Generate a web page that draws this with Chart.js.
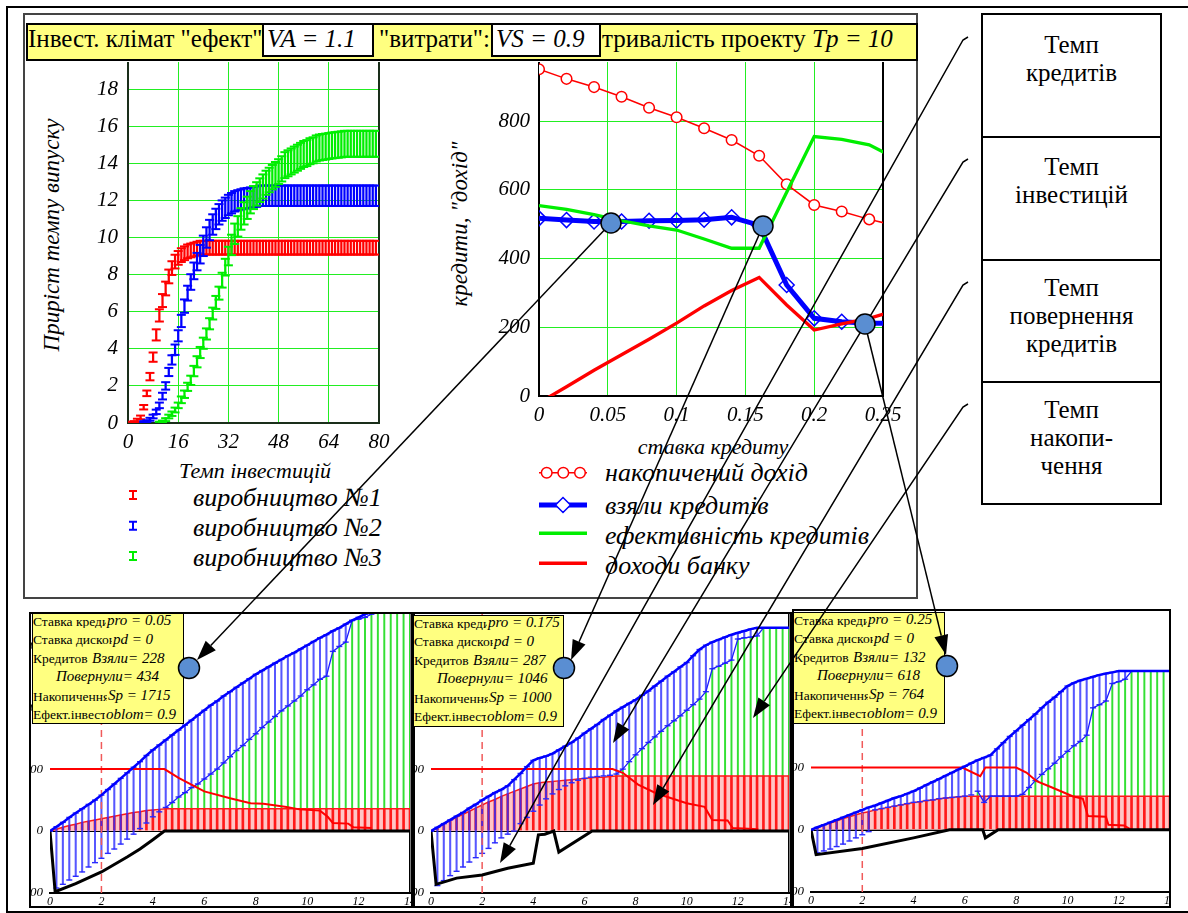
<!DOCTYPE html>
<html lang="uk">
<head>
<meta charset="utf-8">
<title>Інвест. клімат</title>
<script src="https://cdn.jsdelivr.net/npm/chart.js@4.4.1/dist/chart.umd.min.js"></script>
<style>
html,body{margin:0;padding:0;background:#fff;}
body{width:1188px;height:913px;position:relative;overflow:hidden;font-family:"Liberation Serif","Times New Roman",serif;color:#000;}
.a{position:absolute;white-space:nowrap;line-height:1;}
.i{font-style:italic;}
canvas{position:absolute;z-index:1;}
.panel{position:absolute;box-sizing:border-box;border:2px solid #000;overflow:hidden;background:#fff;}
.info{position:absolute;box-sizing:border-box;border:1.5px solid #000;background:#ffff80;z-index:3;overflow:hidden;}
.rbox{position:absolute;box-sizing:border-box;border:2px solid #000;left:981px;width:181px;text-align:center;line-height:28px;background:#fff;}
.tt{z-index:2;}
</style>
</head>
<body>
<div style="position:absolute;left:6px;top:6px;width:1200px;height:903px;border:2px solid #000;"></div>
<div style="position:absolute;left:23px;top:13px;width:891px;height:582px;border:2px solid #444;"></div>

<div class="rbox" data-fs="25" style="top:13px;height:125px;padding-top:16px;">Темп<br>кредитів</div>
<div class="rbox" data-fs="25" style="top:136px;height:125px;padding-top:14.5px;">Темп<br>інвестицій</div>
<div class="rbox" data-fs="25" style="top:259px;height:124px;padding-top:13.3px;">Темп<br>повернення<br>кредитів</div>
<div class="rbox" data-fs="25" style="top:381px;height:124px;padding-top:13px;">Темп<br>накопи-<br>чення</div>

<div class="tt" style="position:absolute;left:26px;top:23px;width:892px;height:38px;box-sizing:border-box;border:2px solid #000;background:#ffff80;"></div>
<div class="a tt" data-fs="25" style="left:28px;top:26px;">Інвест. клімат "ефект"</div>
<div class="tt" style="position:absolute;left:262px;top:23px;width:112px;height:34px;box-sizing:border-box;border:2px solid #000;background:#fff;"></div>
<div class="a i tt" data-fs="25" style="left:267px;top:26px;">VA = 1.1</div>
<div class="a tt" data-fs="25" style="left:379px;top:26px;">"витрати":</div>
<div class="tt" style="position:absolute;left:491px;top:23px;width:110px;height:34px;box-sizing:border-box;border:2px solid #000;background:#fff;"></div>
<div class="a i tt" data-fs="25" style="left:496px;top:26px;">VS = 0.9</div>
<div class="a tt" data-fs="25" style="left:602px;top:26px;">тривалість проекту</div>
<div class="a i tt" data-fs="25" style="left:812px;top:26px;">Tp = 10</div>

<div class="a i" data-fs="23" style="left:51px;top:235px;transform:translate(-50%,-50%) rotate(-90deg);">Приріст темпу випуску</div>
<div class="a i" data-fs="22" style="left:255px;top:460px;transform:translateX(-50%);">Темп інвестицій</div>
<div class="a i" data-fs="23" style="left:459px;top:224px;transform:translate(-50%,-50%) rotate(-90deg);">кредити, "дохід"</div>
<div class="a i" data-fs="22" style="left:713px;top:436px;transform:translateX(-50%);">ставка кредиту</div>

<div class="a i" data-fs="26" style="left:193px;top:485px;">виробництво №1</div>
<div class="a i" data-fs="26" style="left:193px;top:515px;">виробництво №2</div>
<div class="a i" data-fs="26" style="left:193px;top:545px;">виробництво №3</div>
<div class="a i" data-fs="26" style="left:605px;top:460px;">накопичений дохід</div>
<div class="a i" data-fs="26" style="left:605px;top:493px;">взяли кредитів</div>
<div class="a i" data-fs="26" style="left:605px;top:523px;">ефективність кредитів</div>
<div class="a i" data-fs="26" style="left:605px;top:553px;">доходи банку</div>

<div class="panel" id="pan1" style="left:29px;top:612px;width:384px;height:296px;"></div>
<div class="panel" id="pan2" style="left:413px;top:612px;width:379px;height:296px;"></div>
<div class="panel" id="pan3" style="left:792px;top:609px;width:379px;height:299px;"></div>

<script>
// ---------------- DATA: top-left chart (error bars) ----------------
const invX = [1,2,3,4,5,6,7,8,9,10,11,12,13,14,15,16,17,18,19,20,21,22,23,24,25,26,27,28,29,30,31,32,33,34,35,36,37,38,39,40,41,42,43,44,45,46,47,48,49,50,51,52,53,54,55,56,57,58,59,60,61,62,63,64,65,66,67,68,69,70,71,72,73,74,75,76,77,78,79];
const invTicks = [0,16,32,48,64,80];
const growthTicks = [0,2,4,6,8,10,12,14,16,18];
const prod1Mid = [0.02,0.05,0.15,0.3,0.85,1.6,2.5,3.55,4.75,5.8,
 6.6,7.25,7.9,8.35,8.7,8.9,9.05,9.15,9.25,9.3,
 9.35,9.4,9.45,9.45,9.45,9.45,9.45,9.45,9.45,9.45,
 9.45,9.45,9.45,9.45,9.45,9.45,9.45,9.45,9.45,9.45,
 9.45,9.45,9.45,9.45,9.45,9.45,9.45,9.45,9.45,9.45,
 9.45,9.45,9.45,9.45,9.45,9.45,9.45,9.45,9.45,9.45,
 9.45,9.45,9.45,9.45,9.45,9.45,9.45,9.45,9.45,9.45,
 9.45,9.45,9.45,9.45,9.45,9.45,9.45,9.45,9.45];
const prod1Err = [0.05,0.05,0.08,0.1,0.12,0.15,0.2,0.25,0.3,0.33,
 0.35,0.37,0.37,0.37,0.37,0.37,0.37,0.37,0.37,0.37,
 0.37,0.37,0.37,0.37,0.37,0.37,0.37,0.37,0.37,0.37,
 0.37,0.37,0.37,0.37,0.37,0.37,0.37,0.37,0.37,0.37,
 0.37,0.37,0.37,0.37,0.37,0.37,0.37,0.37,0.37,0.37,
 0.37,0.37,0.37,0.37,0.37,0.37,0.37,0.37,0.37,0.37,
 0.37,0.37,0.37,0.37,0.37,0.37,0.37,0.37,0.37,0.37,
 0.37,0.37,0.37,0.37,0.37,0.37,0.37,0.37,0.37];
const prod2Mid = [null,null,null,null,0.05,0.1,0.2,0.35,0.6,0.95,
 1.45,2.0,2.75,3.4,3.95,4.7,5.5,6.3,7.0,7.6,
 8.2,8.7,9.1,9.55,10.0,10.4,10.7,11.0,11.25,11.45,
 11.6,11.75,11.85,11.95,12.0,12.05,12.1,12.12,12.15,12.18,
 12.2,12.25,12.25,12.25,12.25,12.25,12.25,12.25,12.25,12.25,
 12.25,12.25,12.25,12.25,12.25,12.25,12.25,12.25,12.25,12.25,
 12.25,12.25,12.25,12.25,12.25,12.25,12.25,12.25,12.25,12.25,
 12.25,12.25,12.25,12.25,12.25,12.25,12.25,12.25,12.25];
const prod2Err = [null,null,null,null,0.05,0.05,0.08,0.1,0.12,0.15,
 0.18,0.2,0.22,0.25,0.28,0.3,0.33,0.36,0.4,0.42,
 0.45,0.47,0.5,0.55,0.55,0.55,0.55,0.55,0.55,0.55,
 0.55,0.55,0.55,0.55,0.55,0.55,0.55,0.55,0.55,0.55,
 0.55,0.55,0.55,0.55,0.55,0.55,0.55,0.55,0.55,0.55,
 0.55,0.55,0.55,0.55,0.55,0.55,0.55,0.55,0.55,0.55,
 0.55,0.55,0.55,0.55,0.55,0.55,0.55,0.55,0.55,0.55,
 0.55,0.55,0.55,0.55,0.55,0.55,0.55,0.55,0.55];
const prod3Mid = [null,null,null,null,null,null,null,null,null,0.02,
 0.08,0.18,0.35,0.5,0.7,0.95,1.25,1.55,1.95,2.3,
 2.8,3.3,3.8,4.3,4.8,5.35,5.9,6.5,7.0,7.7,
 8.4,9.0,9.6,10.2,10.6,11.0,11.3,11.6,11.9,12.15,
 12.35,12.55,12.75,12.95,13.1,13.25,13.4,13.55,13.7,13.9,
 14.0,14.1,14.2,14.3,14.4,14.5,14.55,14.65,14.7,14.8,
 14.85,14.88,14.9,14.93,14.96,14.98,15.0,15.02,15.05,15.05,
 15.05,15.05,15.05,15.05,15.05,15.05,15.05,15.05,15.05];
const prod3Err = [null,null,null,null,null,null,null,null,null,0.05,
 0.05,0.08,0.1,0.12,0.13,0.15,0.18,0.2,0.22,0.25,
 0.28,0.3,0.3,0.3,0.3,0.3,0.32,0.35,0.35,0.4,
 0.45,0.5,0.55,0.55,0.55,0.58,0.6,0.6,0.6,0.62,
 0.63,0.64,0.65,0.65,0.66,0.66,0.67,0.67,0.68,0.7,
 0.7,0.7,0.7,0.7,0.7,0.7,0.7,0.7,0.7,0.7,
 0.7,0.7,0.7,0.7,0.7,0.7,0.7,0.7,0.7,0.7,
 0.7,0.7,0.7,0.7,0.7,0.7,0.7,0.7,0.7];

// ---------------- DATA: top-middle chart ----------------
const rateX = [0,0.02,0.04,0.06,0.08,0.1,0.12,0.14,0.16,0.18,0.2,0.22,0.24,0.26];
const rateTicks = [0,0.05,0.1,0.15,0.2,0.25];
const creditTicks = [0,200,400,600,800];
const accumIncome = [951,923,899,871,839,811,779,745,699,616,556,537,514,495];
const creditsTaken = [517,512,508,508,510,511,513,520,497,323,226,216,212,212];
const creditEfficiency = [554,543,528,510,495,483,457,430,430,593,755,747,731,690];
const bankIncome = [-20,27,75,120,165,212,262,307,345,265,192,210,226,250];

// ---------------- DATA: bottom panels ----------------
const tX = [0,0.25,0.5,0.75,1,1.25,1.5,1.75,2,2.25,2.5,2.75,3,3.25,3.5,3.75,4,4.25,4.5,4.75,5,5.25,5.5,5.75,6,6.25,6.5,6.75,7,7.25,7.5,7.75,8,8.25,8.5,8.75,9,9.25,9.5,9.75,10,10.25,10.5,10.75,11,11.25,11.5,11.75,12,12.25,12.5,12.75,13,13.25,13.5,13.75,14];
const yearTicks = [0,2,4,6,8,10,12,14];
const amountTicks = [-100,0,100,200,300];
const dueYear = 2;

const p1Hi = [0,7,14,22,29,36,43,50,58,67,
 76,85,94,103,112,122,131,139,147,155,
 163,171,179,187,195,203,210,218,225,232,
 239,246,253,259,265,271,277,283,288,294,
 300,306,312,317,323,328,334,340,345,350,
 356,361,367,372,378,383,389];
const p1Lo = [0,-92,-86,-79,-73,-66,-58,-51,-44,-36,
 -29,-21,-13,-5,4,13,23,31,38,46,
 55,62,70,76,84,92,100,110,120,130,
 138,148,157,167,176,185,194,202,210,218,
 228,236,245,250,290,298,305,340,342,345,
 350,361,367,372,378,383,389];
const p1Green = [null,null,null,null,null,null,null,null,null,null,
 null,null,null,null,null,null,null,null,38,46,
 55,62,70,76,84,92,100,110,120,130,
 138,148,157,167,176,185,194,202,210,218,
 228,236,245,250,290,298,305,340,342,345,
 350,361,367,372,378,383,389];
const p1Red = [0,3,6,9,11,14,16,18,20,22,
 24,26,28,30,31,33,34,35,36,36,
 36,36,36,36,36,36,36,36,36,36,
 36,36,36,36,36,36,36,36,36,36,
 36,36,36,36,36,36,36,36,36,36,
 36,36,36,36,36,36,36];
const p1IncX = [0,4.45,5,5.5,6,7,7.8,8.3,9.2,9.7,10.5,10.8,11,11.6,11.8,12.5];
const p1IncY = [100,100,86,75,64,53,45,44,39,35,33,23,13,12,6,5];
const p1BalX = [0,0.2,1,2,3,3.5,4,4.45,14];
const p1BalY = [0,-98,-85,-66,-42,-29,-14,0,0];

const p2Hi = [0,6,12,18,24,30,37,43,50,56,
 62,67,73,83,93,104,114,118,121,125,
 131,137,143,150,158,165,172,180,187,194,
 200,206,212,219,226,234,242,250,257,265,
 272,283,293,300,305,309,313,317,320,323,
 326,328,328,328,328,328,328];
const p2Lo = [0,-88,-80,-72,-65,-58,-50,-43,-36,-28,
 -19,-11,-5,0,12,22,32,42,52,60,
 67,73,78,82,85,87,88,89,90,92,
 100,112,123,133,143,152,161,170,178,186,
 195,204,213,225,262,266,271,276,310,312,
 313,315,328,328,328,328,328];
const p2Green = [null,null,null,null,null,null,null,null,null,null,
 null,null,null,null,null,null,null,null,null,null,
 null,null,null,null,null,null,null,null,null,92,
 100,112,123,133,143,152,161,170,178,186,
 195,204,213,225,262,266,271,276,310,312,
 313,315,328,328,328,328,328];
const p2Red = [0,6,12,17,22,27,32,37,42,47,
 51,56,60,64,68,72,76,78,79,80,
 81,82,83,84,85,86,87,87,88,89,
 89,89,89,89,89,89,89,89,89,89,
 89,89,89,89,89,89,89,89,89,89,
 89,89,89,89,89,89,89];
const p2IncX = [0,7.1,7.5,8.1,8.8,9.4,10,10.7,11,11.6,11.8,12.8];
const p2IncY = [100,100,94,75,61,53,45,39,18,17,5,3];
const p2BalX = [0,0.2,1,2,3,4,4.2,4.45,4.8,5.0,6.3,14];
const p2BalY = [0,-86,-76,-71,-60,-52,-6,-5,0,-34,0,0];

const p3Hi = [0,4,8,12,16,20,24,28,32,36,
 39,43,47,51,54,58,62,67,72,77,
 82,87,92,97,102,107,112,116,120,130,
 140,150,159,168,177,186,196,205,213,222,
 231,236,240,243,246,249,251,253,255,255,
 255,255,255,255,255,255,255];
const p3Lo = [0,-37,-34,-31,-27,-23,-18,-13,-8,-3,
 32,34,36,38,40,42,44,45,47,48,
 50,51,52,53,54,56,62,44,54,54,
 54,54,54,57,68,79,89,98,107,117,
 126,135,142,152,196,201,207,235,238,242,
 255,255,255,255,255,255,255];
const p3Green = [null,null,null,null,null,null,null,null,null,null,
 null,null,null,null,null,null,null,null,null,null,
 null,null,null,null,null,null,62,44,54,54,
 54,54,54,57,68,79,89,98,107,117,
 126,135,142,152,196,201,207,235,238,242,
 255,255,255,255,255,255,255];
const p3Red = [0,4,8,11,14,18,21,24,27,29,
 32,34,36,38,40,42,44,45,47,48,
 50,51,52,53,54,54,54,54,54,54,
 54,54,54,54,54,54,54,54,54,54,
 54,54,54,54,54,54,54,54,54,54,
 54,54,54,54,54,54,54];
const p3IncX = [0,5.9,6.6,6.8,8.0,8.4,8.8,9.4,10.2,10.6,10.8,11.5,11.6,12.2,12.5];
const p3IncY = [100,100,86,100,100,92,78,68,54,50,22,21,8,7,0];
const p3BalX = [0,0.2,2,4,5.4,6.7,6.8,7.3,14];
const p3BalY = [0,-40,-30,-13,0,0,-13,0,0];

const rateVals = ['0.05','0.175','0.25'];
const discountVals = ['0','0','0'];
const takenVals = ['228','287','132'];
const returnedVals = ['434','1046','618'];
const accumVals = ['1715','1000','764'];
const oblomVals = ['0.9','0.9','0.9'];

// ---------------- font selection ----------------
const mc = document.createElement('canvas').getContext('2d');
const probe = 'тривалість проекту';
const mw = f => { mc.font = f; return mc.measureText(probe).width; };
const avail = n => mw(`100px "${n}", monospace`) !== mw('100px monospace') || mw(`100px "${n}", cursive`) !== mw('100px cursive');
const serifCands = ['Liberation Serif','Tinos','Times New Roman','DejaVu Serif','Noto Serif','FreeSerif','Nimbus Roman'];
const FONT = serifCands.find(avail) || 'Liberation Sans';
let K = 1;
if (!['Liberation Serif','Tinos','Times New Roman'].includes(FONT)) {
  K = Math.max(0.72, Math.min(1.1, 816 / mw(`100px "${FONT}"`)));
}
const FAM = `"${FONT}", serif`;
document.body.style.fontFamily = FAM;
document.querySelectorAll('[data-fs]').forEach(e => { e.style.fontSize = (+e.dataset.fs * K) + 'px'; });

// ---------------- Chart.js setup ----------------
Chart.defaults.font.family = FAM;
Chart.defaults.color = '#000';
Chart.defaults.animation = false;
Chart.defaults.plugins.legend.display = false;
Chart.defaults.plugins.tooltip.enabled = false;

function makeCanvas(parent, left, top, w, h) {
  const c = document.createElement('canvas');
  c.width = w; c.height = h;
  c.style.left = left + 'px'; c.style.top = top + 'px';
  c.style.width = w + 'px'; c.style.height = h + 'px';
  parent.appendChild(c);
  return c;
}
const setTicks = arr => s => { s.ticks = arr.map(v => ({value:v})); };
const lbl = v => String(v);
const baseOpts = { responsive:false, maintainAspectRatio:false, devicePixelRatio:1, animation:false, events:[] };

// ---- chart 1 ----
function errSets(mid, err, color, ord) {
  const bars = [], lo = [], hi = [];
  invX.forEach((x, i) => {
    if (mid[i] == null) return;
    const a = mid[i] - err[i], b = mid[i] + err[i];
    bars.push({x, y:[a, b]}); lo.push({x, y:a}); hi.push({x, y:b});
  });
  const cap = d => ({type:'line', data:d, showLine:false, pointStyle:'line', pointRadius:4.5,
    pointBorderWidth:2, pointBorderColor:color, pointBackgroundColor:color, borderColor:color, order:ord - 1});
  return [{type:'bar', data:bars, backgroundColor:color, barThickness:1.6, grouped:false, order:ord}, cap(lo), cap(hi)];
}
const c1 = makeCanvas(document.body, 60, 62, 334, 401);
new Chart(c1, {
  type:'bar',
  data:{datasets:[
    ...errSets(prod1Mid, prod1Err, '#ff0000', 9),
    ...errSets(prod2Mid, prod2Err, '#0000ff', 6),
    ...errSets(prod3Mid, prod3Err, '#00ee00', 3)
  ]},
  options:{...baseOpts,
    layout:{autoPadding:false, padding:{left:0, right:15, top:0, bottom:0}},
    scales:{
      x:{type:'linear', min:0, max:80, offset:false,
        grid:{color:'#22ee22', lineWidth:1, drawTicks:false, offset:false},
        border:{color:'#1a2e1a', width:2},
        ticks:{padding:7, maxRotation:0, autoSkip:false, callback:lbl, font:{size:21 * K, style:'italic'}},
        afterBuildTicks:setTicks(invTicks),
        afterFit(s){ s.height = 40; s.paddingLeft = 0; s.paddingRight = 0; }},
      y:{type:'linear', min:0, max:19.46,
        grid:{color:'#22ee22', lineWidth:1, drawTicks:false},
        border:{color:'#1a2e1a', width:2},
        ticks:{padding:10, autoSkip:false, callback:lbl, font:{size:21 * K, style:'italic'}},
        afterBuildTicks:setTicks(growthTicks),
        afterFit(s){ s.width = 68; s.paddingTop = 0; s.paddingBottom = 0; }},
      yr:{type:'linear', position:'right', min:0, max:19.46,
        grid:{display:false, drawTicks:false}, ticks:{display:false},
        border:{color:'#1a2e1a', width:2},
        afterFit(s){ s.width = 0; s.paddingTop = 0; s.paddingBottom = 0; }}
    }
  }
});

// ---- chart 2 ----
const pts = (xs, ys) => xs.map((x, i) => ({x, y:ys[i]}));
const c2 = makeCanvas(document.body, 470, 62, 435, 374);
new Chart(c2, {
  type:'line',
  data:{datasets:[
    {label:'накопичений дохід', data:pts(rateX, accumIncome), borderColor:'#ff0000', borderWidth:1.5,
      pointStyle:'circle', pointRadius:5.3, pointBorderWidth:1.5, pointBorderColor:'#ff0000', pointBackgroundColor:'#ffffff', order:4},
    {label:'взяли кредитів', data:pts(rateX, creditsTaken), borderColor:'#0000ff', borderWidth:5,
      pointStyle:'rectRot', pointRadius:7.5, pointBorderWidth:1.5, pointBorderColor:'#0000ff', pointBackgroundColor:'rgba(255,255,255,0)', order:3},
    {label:'ефективність кредитів', data:pts(rateX, creditEfficiency), borderColor:'#00ee00', borderWidth:3.3, pointRadius:0, order:2},
    {label:'доходи банку', data:pts(rateX, bankIncome), borderColor:'#ff0000', borderWidth:3.3, pointRadius:0, order:1}
  ]},
  options:{...baseOpts,
    layout:{autoPadding:false, padding:{left:0, right:22, top:0, bottom:0}},
    scales:{
      x:{type:'linear', min:0, max:0.25,
        grid:{color:'#22ee22', lineWidth:1, drawTicks:false},
        border:{color:'#000', width:2},
        ticks:{padding:7, maxRotation:0, autoSkip:false, callback:lbl, font:{size:21 * K, style:'italic'}},
        afterBuildTicks:setTicks(rateTicks),
        afterFit(s){ s.height = 40; s.paddingLeft = 0; s.paddingRight = 0; }},
      y:{type:'linear', min:0, max:972,
        grid:{color:'#22ee22', lineWidth:1, drawTicks:false},
        border:{color:'#000', width:2},
        ticks:{padding:9, autoSkip:false, callback:lbl, font:{size:21 * K, style:'italic'}},
        afterBuildTicks:setTicks(creditTicks),
        afterFit(s){ s.width = 69; s.paddingTop = 0; s.paddingBottom = 0; }},
      yr:{type:'linear', position:'right', min:0, max:972,
        grid:{display:false, drawTicks:false}, ticks:{display:false},
        border:{color:'#000', width:2},
        afterFit(s){ s.width = 0; s.paddingTop = 0; s.paddingBottom = 0; }}
    }
  }
});

// ---- bottom panels ----
function panelChart(parentId, geo, p) {
  const parent = document.getElementById(parentId);
  const c = makeCanvas(parent, geo.left, geo.top, geo.w, geo.h);
  const toPts = arr => tX.map((x, i) => arr[i] == null ? null : {x, y:arr[i]}).filter(Boolean);
  const blue = tX.map((x, i) => ({x, y:[p.lo[i], p.hi[i]]}));
  const capSet = (arr, ord) => ({type:'line', data:toPts(arr), showLine:false, pointStyle:'line', pointRadius:3,
    pointBorderWidth:1.4, pointBorderColor:'#2a2aff', borderColor:'#2a2aff', order:ord});
  new Chart(c, {
    type:'bar',
    data:{datasets:[
      {type:'bar', data:toPts(p.green), backgroundColor:'#33e033', barThickness:1.3, grouped:false, order:21},
      {type:'line', data:toPts(p.red), borderColor:'#ff1a1a', borderWidth:1.5, pointRadius:0,
        fill:'origin', backgroundColor:'#ffc6c6', order:20},
      {type:'bar', data:toPts(p.red), backgroundColor:'#ff1a1a', barThickness:2, grouped:false, order:19},
      {type:'bar', data:blue, backgroundColor:'rgba(45,45,255,0.8)', barThickness:1.4, grouped:false, order:17},
      capSet(p.lo, 16),
      capSet(p.hi, 16),
      {type:'line', data:toPts(p.green), borderColor:'#1c1cff', borderWidth:1.3, pointRadius:0, order:15},
      {type:'line', data:[{x:dueYear, y:-100}, {x:dueYear, y:400}], borderColor:'#f05a5a', borderWidth:1.5,
        borderDash:[7,5], pointRadius:0, order:14},
      {type:'line', data:pts(p.incX, p.incY), borderColor:'#ff0000', borderWidth:2, pointRadius:0, order:3},
      {type:'line', data:pts(p.balX, p.balY), borderColor:'#000', borderWidth:3, pointRadius:0, order:2},
      {type:'line', data:toPts(p.hi), borderColor:'#0000ff', borderWidth:2.5, pointRadius:0, order:1}
    ]},
    options:{...baseOpts,
      layout:{autoPadding:false, padding:{left:0, right:12, top:0, bottom:0}},
      scales:{
        x:{type:'linear', min:0, max:14, offset:false,
          grid:{display:false, drawTicks:false, offset:false},
          border:{color:'#000', width:2},
          ticks:{padding:2, maxRotation:0, autoSkip:false, callback:lbl, font:{size:12 * K, style:'italic'}},
          afterBuildTicks:setTicks(yearTicks),
          afterFit(s){ s.height = 20; s.paddingLeft = 0; s.paddingRight = 0; }},
        y:{type:'linear', min:-100, max:geo.ymax,
          grid:{drawTicks:false, color:ctx => ctx.tick && ctx.tick.value === 0 ? '#000' : 'rgba(0,0,0,0)', lineWidth:2},
          border:{display:false},
          ticks:{padding:7, autoSkip:false, callback:lbl, font:{size:13 * K, style:'italic'}},
          afterBuildTicks:setTicks(amountTicks),
          afterFit(s){ s.width = 40; s.paddingTop = 0; s.paddingBottom = 0; }},
        yr:{type:'linear', position:'right', min:-100, max:geo.ymax,
          grid:{display:false, drawTicks:false}, ticks:{display:false},
          border:{color:'#000', width:1.5},
          afterFit(s){ s.width = 0; s.paddingTop = 0; s.paddingBottom = 0; }}
      }
    }
  });
}
panelChart('pan1', {left:-21, top:-1, w:412, h:300, ymax:352},
  {hi:p1Hi, lo:p1Lo, green:p1Green, red:p1Red, incX:p1IncX, incY:p1IncY, balX:p1BalX, balY:p1BalY});
panelChart('pan2', {left:-24, top:-1, w:410, h:300, ymax:352},
  {hi:p2Hi, lo:p2Lo, green:p2Green, red:p2Red, incX:p2IncX, incY:p2IncY, balX:p2BalX, balY:p2BalY});
panelChart('pan3', {left:-23, top:1, w:411, h:300, ymax:350},
  {hi:p3Hi, lo:p3Lo, green:p3Green, red:p3Red, incX:p3IncX, incY:p3IncY, balX:p3BalX, balY:p3BalY});

// ---- info boxes ----
const infoGeo = [{l:32, t:613, w:152, h:111}, {l:413, t:615, w:151, h:112}, {l:793, t:612, w:152, h:112}];
const infoLabels = ['Ставка кредиту', 'Ставка дисконту', 'Кредитов', '', 'Накопичення', 'Ефект.інвест'];
const baseOff = [12, 30.5, 49.3, 68, 87, 105.5];
const italOff = [74, 80, 59, 23, 75, 73];
infoGeo.forEach((g, k) => {
  const box = document.createElement('div');
  box.className = 'info';
  box.style.cssText = `left:${g.l}px;top:${g.t}px;width:${g.w}px;height:${g.h}px;`;
  const vals = ['pro = ' + rateVals[k], 'pd = ' + discountVals[k], 'Взяли= ' + takenVals[k],
    'Повернули= ' + returnedVals[k], 'Sp = ' + accumVals[k], 'oblom= ' + oblomVals[k]];
  for (let r = 0; r < 6; r++) {
    if (infoLabels[r]) {
      const s = document.createElement('div');
      s.className = 'a';
      s.style.cssText = `left:0px;top:${baseOff[r] - 11.3}px;font-size:${13.5 * K}px;width:${italOff[r] - 1}px;overflow:hidden;`;
      s.textContent = infoLabels[r];
      box.appendChild(s);
    }
    const v = document.createElement('div');
    v.className = 'a i';
    v.style.cssText = `left:${italOff[r]}px;top:${baseOff[r] - 12.6}px;font-size:${15 * K}px;`;
    v.textContent = vals[r];
    box.appendChild(v);
  }
  document.body.appendChild(box);
});

// ---- overlay: legend symbols, arrows, markers ----
const NS = 'http://www.w3.org/2000/svg';
const svg = document.createElementNS(NS, 'svg');
svg.setAttribute('width', 1188); svg.setAttribute('height', 913);
svg.style.cssText = 'position:absolute;left:0;top:0;z-index:5;pointer-events:none;';
document.body.appendChild(svg);
function el(tag, attrs) { const e = document.createElementNS(NS, tag); for (const k in attrs) e.setAttribute(k, attrs[k]); svg.appendChild(e); return e; }

[['#ff0000', 495], ['#0000ff', 525.7], ['#00ee00', 556]].forEach(([c, y]) => {
  el('path', {d:`M129 ${y-4}H137M133 ${y-4}V${y+4}M129 ${y+4}H137`, stroke:c, 'stroke-width':2, fill:'none'});
});
el('line', {x1:539, y1:472.7, x2:587, y2:472.7, stroke:'#ff0000', 'stroke-width':1.5});
[546.7, 563.3, 580].forEach(x => el('circle', {cx:x, cy:472.7, r:5.3, fill:'#fff', stroke:'#ff0000', 'stroke-width':1.5}));
el('line', {x1:539, y1:505, x2:587, y2:505, stroke:'#0000ff', 'stroke-width':5});
el('path', {d:'M563 497.5L570.5 505L563 512.5L555.5 505Z', fill:'#fff', stroke:'#0000ff', 'stroke-width':1.5});
el('line', {x1:539, y1:533.3, x2:587, y2:533.3, stroke:'#00ee00', 'stroke-width':3.5});
el('line', {x1:539, y1:563.3, x2:587, y2:563.3, stroke:'#ff0000', 'stroke-width':3.5});

const arrows = [
  [[611,223],[197,660]],
  [[763,226],[571,660]],
  [[865,324],[946,655]],
  [[968,37],[963,40],[500,863]],
  [[968,159],[963,162],[613,743]],
  [[968,282],[963,285],[653,805]],
  [[968,404],[963,407],[753,718]]
];
arrows.forEach(pl => {
  const tip = pl[pl.length - 1], prev = pl[pl.length - 2];
  const dx = tip[0] - prev[0], dy = tip[1] - prev[1], L = Math.hypot(dx, dy);
  const ux = dx / L, uy = dy / L, bx = tip[0] - ux * 20, by = tip[1] - uy * 20;
  const pts2 = pl.slice(0, -1).concat([[bx, by]]);
  el('polyline', {points:pts2.map(p => p.join(',')).join(' '), fill:'none', stroke:'#000', 'stroke-width':1.5});
  el('polygon', {points:`${tip[0]},${tip[1]} ${bx - uy * 7},${by + ux * 7} ${bx + uy * 7},${by - ux * 7}`, fill:'#000'});
});
[[611,223,10],[763,226,10],[865,324,10],[189,668,10.5],[564,668,10.5],[947,666,10.5]].forEach(([x, y, r]) => {
  el('circle', {cx:x, cy:y, r:r, fill:'#5a8ed2', stroke:'#000', 'stroke-width':1.5});
});
</script>
</body>
</html>
